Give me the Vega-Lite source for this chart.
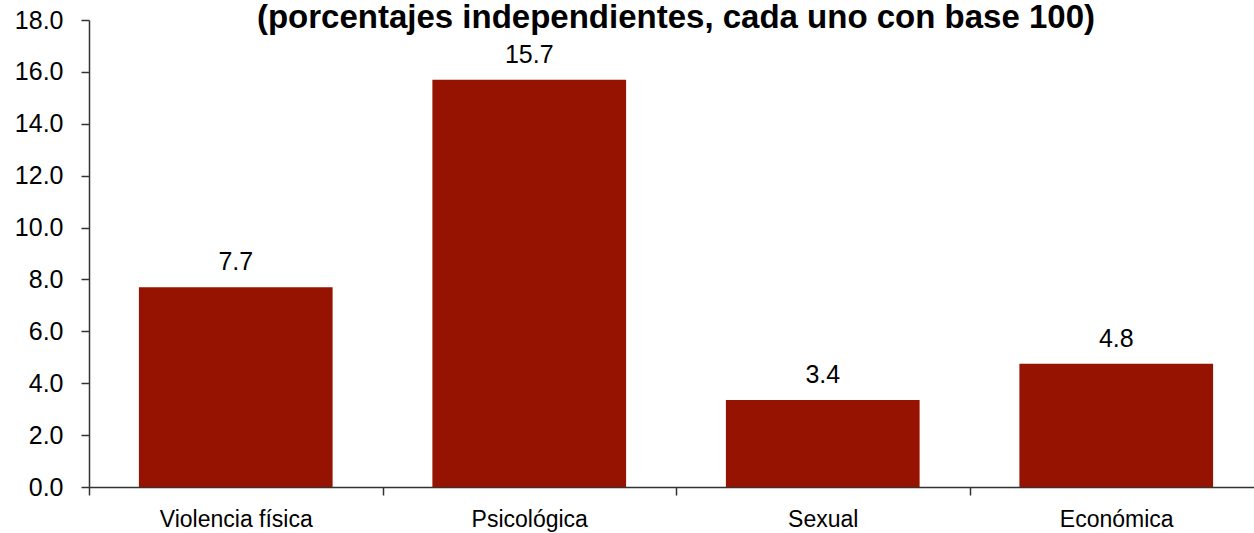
{
  "$schema": "https://vega.github.io/schema/vega-lite/v6.json",
  "autosize": {"type": "none"},
  "padding": {"left": 89, "top": 20, "right": 0, "bottom": 46},
  "width": 1174,
  "height": 467,
  "background": "white",
  "title": {
    "text": "(porcentajes independientes, cada uno con base 100)",
    "font": "Liberation Sans",
    "fontSize": 33,
    "fontWeight": "bold",
    "color": "#000000",
    "anchor": "middle",
    "frame": "group",
    "offset": -13,
    "dy": 14
  },
  "data": {
    "values": [
      {"tipo": "Violencia física", "pct": 7.7},
      {"tipo": "Psicológica", "pct": 15.7},
      {"tipo": "Sexual", "pct": 3.35},
      {"tipo": "Económica", "pct": 4.75}
    ]
  },
  "encoding": {
    "x": {
      "field": "tipo",
      "type": "nominal",
      "sort": null,
      "scale": {"paddingInner": 0, "paddingOuter": 0},
      "axis": {
        "title": null,
        "labelAngle": 0,
        "labelFont": "Liberation Sans",
        "labelFontSize": 23,
        "labelColor": "#000000",
        "labelPadding": 13,
        "tickBand": "extent",
        "tickSize": 8,
        "tickColor": "#333333",
        "domainColor": "#333333",
        "domainWidth": 1.5,
        "tickWidth": 1.5,
        "grid": false
      }
    },
    "y": {
      "field": "pct",
      "type": "quantitative",
      "scale": {"domain": [0, 18], "nice": false},
      "axis": {
        "title": null,
        "values": [0, 2, 4, 6, 8, 10, 12, 14, 16, 18],
        "format": ".1f",
        "labelFont": "Liberation Sans",
        "labelFontSize": 25,
        "labelColor": "#000000",
        "labelPadding": 18,
        "tickSize": 8,
        "tickColor": "#333333",
        "domainColor": "#333333",
        "domainWidth": 1.5,
        "tickWidth": 1.5,
        "grid": false
      }
    }
  },
  "layer": [
    {"mark": {"type": "bar", "color": "#951300", "width": {"band": 0.66}}},
    {
      "mark": {"type": "text", "baseline": "alphabetic", "dy": -17, "font": "Liberation Sans", "fontSize": 25, "color": "#000000"},
      "encoding": {"text": {"field": "pct", "type": "quantitative", "format": ".1f"}}
    }
  ],
  "config": {"view": {"stroke": null}}
}
